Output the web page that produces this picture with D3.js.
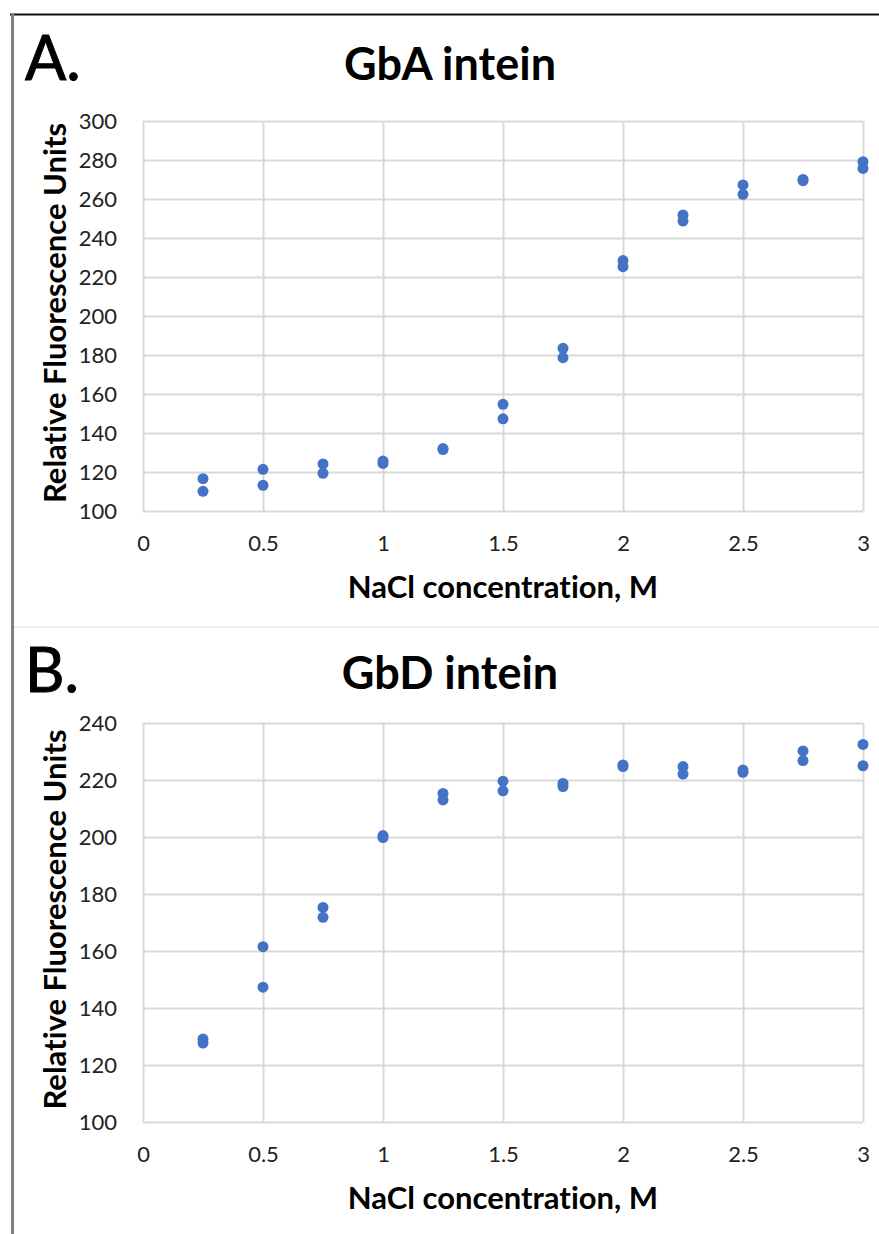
<!DOCTYPE html>
<html>
<head>
<meta charset="utf-8">
<script src="https://cdn.jsdelivr.net/npm/d3@7"></script>
<style>
  html, body { margin: 0; padding: 0; background: #fff; }
  svg { display: block; }
  text { font-family: Lato, "Open Sans", sans-serif; font-variant-ligatures: none; font-feature-settings: "liga" 0, "clig" 0; }
</style>
</head>
<body>
<svg id="chart" width="879" height="1234"></svg>
<script>
// ---- data ----
const naclConc = [0.25, 0.5, 0.75, 1, 1.25, 1.5, 1.75, 2, 2.25, 2.5, 2.75, 3];
const gbARep1 = [116.6, 121.4, 124.1, 125.6, 132.0, 154.7, 183.4, 228.4, 251.8, 267.2, 270.0, 279.1];
const gbARep2 = [110.1, 113.2, 119.3, 124.4, 131.5, 147.3, 178.6, 225.3, 248.7, 262.4, 269.4, 275.7];
const gbDRep1 = [129.1, 161.5, 175.3, 200.5, 215.3, 219.6, 218.8, 225.3, 224.7, 223.5, 230.2, 232.5];
const gbDRep2 = [127.7, 147.3, 171.8, 199.8, 213.0, 216.2, 217.7, 224.7, 222.1, 222.7, 226.8, 225.0];
const xTicks = [0, 0.5, 1, 1.5, 2, 2.5, 3];
const yTicksA = [100, 120, 140, 160, 180, 200, 220, 240, 260, 280, 300];
const yTicksB = [100, 120, 140, 160, 180, 200, 220, 240];
const panelLetters = ["A.", "B."];
const panelTitles = ["GbA intein", "GbD intein"];
const xTitle = "NaCl concentration, M";
const yTitle = "Relative Fluorescence Units";

const svg = d3.select("#chart");
const W = 879, H = 1234;
const gridColor = "#d9d9d9";
const dotColor = "#4472C4";

// frame lines
svg.append("line").attr("x1", 10).attr("x2", W).attr("y1", 14.5).attr("y2", 14.5)
  .attr("stroke", "#111").attr("stroke-width", 2);
svg.append("line").attr("x1", 12.5).attr("x2", 12.5).attr("y1", 14).attr("y2", H)
  .attr("stroke", "#808080").attr("stroke-width", 3);
svg.append("line").attr("x1", 14).attr("x2", W).attr("y1", 627).attr("y2", 627)
  .attr("stroke", "#ececec").attr("stroke-width", 2);

const panels = [
  { letter: panelLetters[0], title: panelTitles[0], yTicks: yTicksA, yDomain: [100, 300],
    top: 121, bottom: 511, letterY: 80, titleY: 80, reps: [gbARep1, gbARep2] },
  { letter: panelLetters[1], title: panelTitles[1], yTicks: yTicksB, yDomain: [100, 240],
    top: 723, bottom: 1122, letterY: 692, titleY: 689, reps: [gbDRep1, gbDRep2] }
];

const left = 143, right = 863;

panels.forEach(p => {
  const g = svg.append("g");
  const x = d3.scaleLinear().domain([0, 3]).range([left, right]);
  const y = d3.scaleLinear().domain(p.yDomain).range([p.bottom, p.top]);

  // panel letter and title
  g.append("text").attr("x", 25).attr("y", p.letterY)
    .attr("font-size", 61).attr("font-weight", 400).attr("fill", "#000")
    .attr("stroke", "#000").attr("stroke-width", 1).text(p.letter);
  g.append("text").attr("x", 450).attr("y", p.titleY).attr("text-anchor", "middle")
    .attr("font-size", 45).attr("font-weight", 700).attr("fill", "#000").text(p.title);

  // horizontal grid
  const yGrid = d3.axisLeft(y).tickValues(p.yTicks).tickSize(-(right - left)).tickFormat("");
  g.append("g").attr("transform", `translate(${left},0)`).call(yGrid)
    .call(s => s.select(".domain").remove())
    .call(s => s.selectAll("line").attr("stroke", gridColor).attr("stroke-width", 2));
  // vertical grid
  const xGrid = d3.axisBottom(x).tickValues(xTicks).tickSize(-(p.bottom - p.top)).tickFormat("");
  g.append("g").attr("transform", `translate(0,${p.bottom})`).call(xGrid)
    .call(s => s.select(".domain").remove())
    .call(s => s.selectAll("line").attr("stroke", gridColor).attr("stroke-width", 2));

  // tick labels
  const yAxis = d3.axisLeft(y).tickValues(p.yTicks).tickSize(0).tickPadding(26).tickFormat(d3.format("d"));
  g.append("g").attr("transform", `translate(${left},0)`).call(yAxis)
    .call(s => s.select(".domain").remove())
    .call(s => s.selectAll("text").attr("font-size", 22).attr("fill", "#222")
      .attr("font-family", "Lato, sans-serif"));
  const xAxis = d3.axisBottom(x).tickValues(xTicks).tickSize(0).tickPadding(24)
    .tickFormat(d => d3.format("")(d));
  g.append("g").attr("transform", `translate(0,${p.bottom})`).call(xAxis)
    .call(s => s.select(".domain").remove())
    .call(s => s.selectAll("text").attr("font-size", 22).attr("fill", "#222")
      .attr("font-family", "Lato, sans-serif"));

  // axis titles
  g.append("text").attr("x", (left + right) / 2).attr("y", p.bottom + 87)
    .attr("text-anchor", "middle").attr("font-size", 31).attr("font-weight", 700)
    .attr("fill", "#000").text(xTitle);
  const cy = (p.top + p.bottom) / 2 - 3;
  g.append("text").attr("transform", `translate(66,${cy}) rotate(-90)`)
    .attr("text-anchor", "middle").attr("font-size", 31).attr("font-weight", 700)
    .attr("fill", "#000").text(yTitle);

  // dots
  p.reps.forEach(rep => {
    g.append("g").selectAll("circle").data(naclConc.map((c, i) => [c, rep[i]])).join("circle")
      .attr("cx", d => x(d[0])).attr("cy", d => y(d[1])).attr("r", 5.5)
      .attr("fill", dotColor);
  });
});
</script>
</body>
</html>
